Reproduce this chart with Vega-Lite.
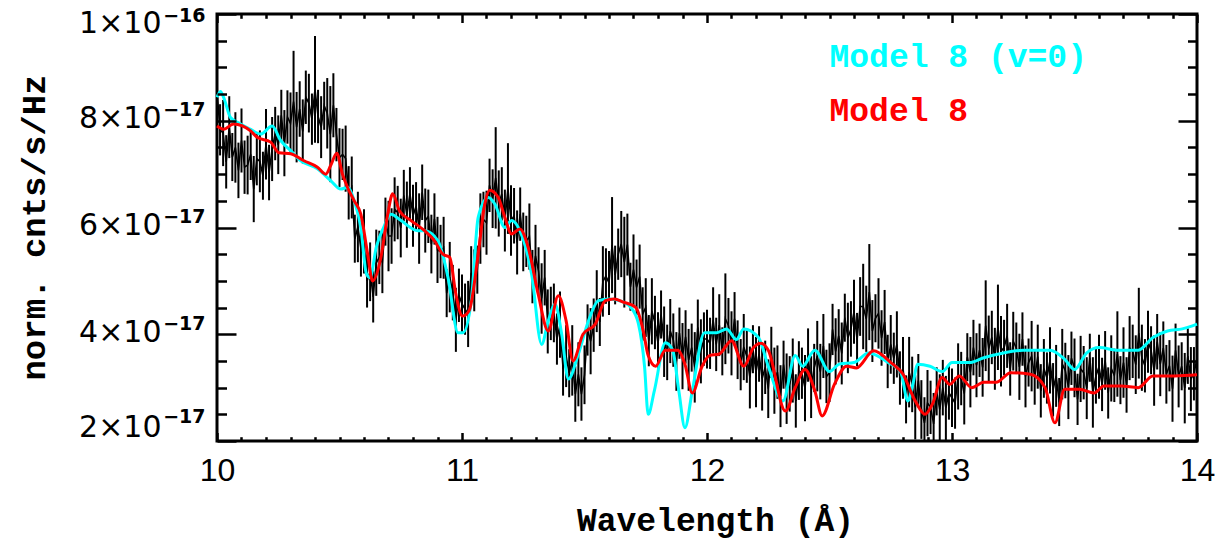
{
"$schema": "https://vega.github.io/schema/vega-lite/v6.json",
"width": 980, "height": 427,
"autosize": {"type": "none"},
"padding": {"left": 217, "top": 14, "right": 26, "bottom": 105},
"background": "white",
"config": {"view": {"stroke": "black", "strokeWidth": 3}, "axis": {"grid": false, "domain": false, "tickColor": "black", "labelColor": "black", "titleColor": "black", "tickCap": "butt"}},
"resolve": {"axis": {"x": "independent", "y": "independent"}},
"datasets": {
"spectrum": [
{"x":10,"f":8.55,"e":0.55},{"x":10.0125,"f":7.83,"e":0.48},{"x":10.025,"f":7.77,"e":0.62},{"x":10.0375,"f":7.23,"e":0.5},{"x":10.05,"f":7.88,"e":0.58},{"x":10.0625,"f":7.32,"e":0.45},{"x":10.075,"f":7.5,"e":0.66},{"x":10.0875,"f":7.07,"e":0.52},
{"x":10.1,"f":7.63,"e":0.6},{"x":10.1125,"f":7.13,"e":0.5},{"x":10.125,"f":7.17,"e":0.55},{"x":10.1375,"f":7.37,"e":0.48},{"x":10.15,"f":6.72,"e":0.62},{"x":10.1625,"f":7.29,"e":0.5},{"x":10.175,"f":7.24,"e":0.58},{"x":10.1875,"f":6.97,"e":0.45},
{"x":10.2,"f":7.56,"e":0.66},{"x":10.2125,"f":7.03,"e":0.52},{"x":10.225,"f":7.47,"e":0.6},{"x":10.2375,"f":7.76,"e":0.5},{"x":10.25,"f":7.55,"e":0.55},{"x":10.2625,"f":8.1,"e":0.48},{"x":10.275,"f":7.58,"e":0.62},{"x":10.2875,"f":8.07,"e":0.5},
{"x":10.3,"f":7.95,"e":0.58},{"x":10.3125,"f":8.36,"e":0.95},{"x":10.325,"f":7.88,"e":0.66},{"x":10.3375,"f":8.22,"e":0.52},{"x":10.35,"f":7.8,"e":0.6},{"x":10.3625,"f":8.44,"e":0.5},{"x":10.375,"f":8.33,"e":0.55},{"x":10.3875,"f":8.03,"e":0.48},
{"x":10.4,"f":8.59,"e":1.0},{"x":10.4125,"f":8.08,"e":0.5},{"x":10.425,"f":7.88,"e":0.58},{"x":10.4375,"f":8.28,"e":0.45},{"x":10.45,"f":8.14,"e":0.66},{"x":10.4625,"f":7.75,"e":0.9},{"x":10.475,"f":8.29,"e":0.6},{"x":10.4875,"f":7.74,"e":0.5},
{"x":10.5,"f":7.31,"e":0.55},{"x":10.5125,"f":7.37,"e":0.48},{"x":10.525,"f":7.29,"e":0.62},{"x":10.5375,"f":6.65,"e":0.5},{"x":10.55,"f":6.75,"e":0.58},{"x":10.5625,"f":5.79,"e":0.45},{"x":10.575,"f":6.01,"e":0.66},{"x":10.5875,"f":5.6,"e":0.52},
{"x":10.6,"f":5.74,"e":0.6},{"x":10.6125,"f":5.0,"e":0.5},{"x":10.625,"f":5.17,"e":0.55},{"x":10.6375,"f":4.7,"e":0.48},{"x":10.65,"f":5.34,"e":0.62},{"x":10.6625,"f":5.44,"e":0.5},{"x":10.675,"f":5.35,"e":0.58},{"x":10.6875,"f":6.11,"e":0.45},
{"x":10.7,"f":5.84,"e":0.66},{"x":10.7125,"f":5.84,"e":0.52},{"x":10.725,"f":6.34,"e":0.6},{"x":10.7375,"f":6.28,"e":0.5},{"x":10.75,"f":5.99,"e":0.55},{"x":10.7625,"f":6.6,"e":0.48},{"x":10.775,"f":6.24,"e":0.62},{"x":10.7875,"f":6.63,"e":0.5},
{"x":10.8,"f":6.22,"e":0.58},{"x":10.8125,"f":6.4,"e":0.45},{"x":10.825,"f":5.98,"e":0.66},{"x":10.8375,"f":6.66,"e":0.52},{"x":10.85,"f":6.13,"e":0.6},{"x":10.8625,"f":6.21,"e":0.5},{"x":10.875,"f":5.69,"e":0.55},{"x":10.8875,"f":6.16,"e":0.48},
{"x":10.9,"f":5.58,"e":0.62},{"x":10.9125,"f":5.55,"e":0.5},{"x":10.925,"f":5.62,"e":0.58},{"x":10.9375,"f":4.77,"e":0.45},{"x":10.95,"f":5.07,"e":0.66},{"x":10.9625,"f":4.78,"e":0.52},{"x":10.975,"f":4.27,"e":0.6},{"x":10.9875,"f":4.73,"e":0.5},
{"x":11,"f":4.57,"e":0.55},{"x":11.0125,"f":4.47,"e":0.48},{"x":11.025,"f":4.38,"e":0.62},{"x":11.0375,"f":5.15,"e":0.5},{"x":11.05,"f":5.01,"e":0.58},{"x":11.0625,"f":5.21,"e":0.45},{"x":11.075,"f":5.98,"e":0.66},{"x":11.0875,"f":6.15,"e":0.52},
{"x":11.1,"f":6.09,"e":0.6},{"x":11.1125,"f":6.79,"e":0.5},{"x":11.125,"f":6.54,"e":0.55},{"x":11.1375,"f":6.93,"e":0.95},{"x":11.15,"f":6.45,"e":0.62},{"x":11.1625,"f":6.63,"e":0.5},{"x":11.175,"f":6.13,"e":0.58},{"x":11.1875,"f":6.73,"e":0.85},
{"x":11.2,"f":6.13,"e":0.66},{"x":11.2125,"f":6.22,"e":0.52},{"x":11.225,"f":5.72,"e":0.6},{"x":11.2375,"f":6.25,"e":0.5},{"x":11.25,"f":5.73,"e":0.55},{"x":11.2625,"f":5.74,"e":0.48},{"x":11.275,"f":5.83,"e":0.62},{"x":11.2875,"f":5.08,"e":0.5},
{"x":11.3,"f":5.47,"e":0.58},{"x":11.3125,"f":5.18,"e":0.45},{"x":11.325,"f":4.67,"e":0.66},{"x":11.3375,"f":5.06,"e":0.52},{"x":11.35,"f":4.24,"e":0.6},{"x":11.3625,"f":4.39,"e":0.5},{"x":11.375,"f":4.4,"e":0.55},{"x":11.3875,"f":3.91,"e":0.48},
{"x":11.4,"f":4.18,"e":0.62},{"x":11.4125,"f":3.35,"e":0.5},{"x":11.425,"f":3.59,"e":0.58},{"x":11.4375,"f":3.27,"e":0.45},{"x":11.45,"f":3.51,"e":0.66},{"x":11.4625,"f":2.88,"e":0.52},{"x":11.475,"f":3.25,"e":0.6},{"x":11.4875,"f":2.88,"e":0.5},
{"x":11.5,"f":3.24,"e":0.55},{"x":11.5125,"f":4.08,"e":0.48},{"x":11.525,"f":3.87,"e":0.62},{"x":11.5375,"f":4.17,"e":0.5},{"x":11.55,"f":4.62,"e":0.58},{"x":11.5625,"f":4.23,"e":0.45},{"x":11.575,"f":4.99,"e":0.66},{"x":11.5875,"f":5.09,"e":0.52},
{"x":11.6,"f":4.96,"e":0.6},{"x":11.6125,"f":5.67,"e":0.9},{"x":11.625,"f":5.11,"e":0.55},{"x":11.6375,"f":5.5,"e":0.48},{"x":11.65,"f":5.69,"e":0.62},{"x":11.6625,"f":5.35,"e":0.85},{"x":11.675,"f":5.68,"e":0.58},{"x":11.6875,"f":4.89,"e":0.45},
{"x":11.7,"f":5.21,"e":0.66},{"x":11.7125,"f":4.88,"e":0.52},{"x":11.725,"f":5.08,"e":0.6},{"x":11.7375,"f":4.38,"e":0.5},{"x":11.75,"f":4.5,"e":0.55},{"x":11.7625,"f":3.88,"e":0.48},{"x":11.775,"f":4.43,"e":0.62},{"x":11.7875,"f":4.22,"e":0.5},
{"x":11.8,"f":3.83,"e":0.58},{"x":11.8125,"f":4.37,"e":0.45},{"x":11.825,"f":3.86,"e":0.66},{"x":11.8375,"f":3.66,"e":0.52},{"x":11.85,"f":4.06,"e":0.6},{"x":11.8625,"f":3.89,"e":0.5},{"x":11.875,"f":3.49,"e":0.55},{"x":11.8875,"f":4.02,"e":0.48},
{"x":11.9,"f":3.59,"e":0.62},{"x":11.9125,"f":3.95,"e":0.5},{"x":11.925,"f":3.52,"e":0.58},{"x":11.9375,"f":3.75,"e":0.45},{"x":11.95,"f":3.38,"e":0.66},{"x":11.9625,"f":4.13,"e":0.52},{"x":11.975,"f":3.68,"e":0.6},{"x":11.9875,"f":3.91,"e":0.5},
{"x":12,"f":3.91,"e":0.55},{"x":12.0125,"f":3.83,"e":0.48},{"x":12.025,"f":4.26,"e":0.62},{"x":12.0375,"f":3.81,"e":0.5},{"x":12.05,"f":4.17,"e":0.58},{"x":12.0625,"f":3.68,"e":0.45},{"x":12.075,"f":4.29,"e":0.85},{"x":12.0875,"f":4.16,"e":0.52},
{"x":12.1,"f":3.83,"e":0.6},{"x":12.1125,"f":4.29,"e":0.5},{"x":12.125,"f":3.71,"e":0.55},{"x":12.1375,"f":3.43,"e":0.48},{"x":12.15,"f":3.76,"e":0.62},{"x":12.1625,"f":3.59,"e":0.5},{"x":12.175,"f":3.19,"e":0.58},{"x":12.1875,"f":3.72,"e":0.45},
{"x":12.2,"f":3.29,"e":0.66},{"x":12.2125,"f":3.63,"e":0.52},{"x":12.225,"f":3.17,"e":0.6},{"x":12.2375,"f":3.38,"e":0.5},{"x":12.25,"f":2.98,"e":0.55},{"x":12.2625,"f":3.66,"e":0.48},{"x":12.275,"f":3.13,"e":0.62},{"x":12.2875,"f":3.29,"e":0.5},
{"x":12.3,"f":2.84,"e":0.58},{"x":12.3125,"f":3.43,"e":0.45},{"x":12.325,"f":2.98,"e":0.66},{"x":12.3375,"f":3.07,"e":0.52},{"x":12.35,"f":3.32,"e":0.6},{"x":12.3625,"f":2.75,"e":0.5},{"x":12.375,"f":3.32,"e":0.55},{"x":12.3875,"f":3.27,"e":0.48},
{"x":12.4,"f":2.99,"e":0.62},{"x":12.4125,"f":3.61,"e":0.5},{"x":12.425,"f":3.01,"e":0.58},{"x":12.4375,"f":3.37,"e":0.45},{"x":12.45,"f":3.59,"e":0.66},{"x":12.4625,"f":3.3,"e":0.52},{"x":12.475,"f":3.78,"e":0.6},{"x":12.4875,"f":3.21,"e":0.5},
{"x":12.5,"f":3.28,"e":0.55},{"x":12.5125,"f":4.09,"e":0.48},{"x":12.525,"f":3.68,"e":0.62},{"x":12.5375,"f":3.97,"e":0.5},{"x":12.55,"f":3.64,"e":0.58},{"x":12.5625,"f":4.31,"e":0.45},{"x":12.575,"f":3.93,"e":0.66},{"x":12.5875,"f":4.1,"e":0.52},
{"x":12.6,"f":4.42,"e":0.6},{"x":12.6125,"f":3.9,"e":0.5},{"x":12.625,"f":4.52,"e":0.55},{"x":12.6375,"f":4.52,"e":0.8},{"x":12.65,"f":4.29,"e":0.62},{"x":12.6625,"f":4.79,"e":0.9},{"x":12.675,"f":4.06,"e":0.58},{"x":12.6875,"f":4.3,"e":0.45},
{"x":12.7,"f":4.39,"e":0.66},{"x":12.7125,"f":3.93,"e":0.52},{"x":12.725,"f":4.23,"e":0.6},{"x":12.7375,"f":3.49,"e":0.5},{"x":12.75,"f":3.81,"e":0.55},{"x":12.7625,"f":3.55,"e":0.48},{"x":12.775,"f":3.81,"e":0.62},{"x":12.7875,"f":3.18,"e":0.5},
{"x":12.8,"f":3.37,"e":0.58},{"x":12.8125,"f":2.78,"e":0.45},{"x":12.825,"f":3.29,"e":0.66},{"x":12.8375,"f":3.06,"e":0.52},{"x":12.85,"f":2.63,"e":0.6},{"x":12.8625,"f":3.13,"e":0.5},{"x":12.875,"f":2.59,"e":0.55},{"x":12.8875,"f":2.34,"e":0.48},
{"x":12.9,"f":2.71,"e":0.62},{"x":12.9125,"f":2.63,"e":0.5},{"x":12.925,"f":2.32,"e":0.58},{"x":12.9375,"f":2.93,"e":0.45},{"x":12.95,"f":2.59,"e":0.66},{"x":12.9625,"f":3.0,"e":0.52},{"x":12.975,"f":2.62,"e":0.6},{"x":12.9875,"f":2.9,"e":0.5},
{"x":13,"f":2.81,"e":0.55},{"x":13.0125,"f":2.71,"e":0.48},{"x":13.025,"f":3.21,"e":0.62},{"x":13.0375,"f":3.17,"e":0.5},{"x":13.05,"f":2.89,"e":0.58},{"x":13.0625,"f":3.57,"e":0.45},{"x":13.075,"f":3.29,"e":0.66},{"x":13.0875,"f":3.75,"e":0.52},
{"x":13.1,"f":3.42,"e":0.6},{"x":13.1125,"f":3.7,"e":0.5},{"x":13.125,"f":3.38,"e":0.55},{"x":13.1375,"f":4.16,"e":0.85},{"x":13.15,"f":3.73,"e":0.62},{"x":13.1625,"f":3.94,"e":0.5},{"x":13.175,"f":3.54,"e":0.58},{"x":13.1875,"f":4.13,"e":0.8},
{"x":13.2,"f":3.68,"e":0.66},{"x":13.2125,"f":3.75,"e":0.52},{"x":13.225,"f":3.97,"e":0.6},{"x":13.2375,"f":3.35,"e":0.5},{"x":13.25,"f":3.87,"e":0.55},{"x":13.2625,"f":3.74,"e":0.48},{"x":13.275,"f":3.39,"e":0.62},{"x":13.2875,"f":3.91,"e":0.5},
{"x":13.3,"f":3.21,"e":0.58},{"x":13.3125,"f":3.47,"e":0.45},{"x":13.325,"f":3.59,"e":0.66},{"x":13.3375,"f":3.2,"e":0.52},{"x":13.35,"f":3.58,"e":0.6},{"x":13.3625,"f":2.94,"e":0.5},{"x":13.375,"f":3.36,"e":0.55},{"x":13.3875,"f":3.18,"e":0.48},
{"x":13.4,"f":3.51,"e":0.62},{"x":13.4125,"f":2.96,"e":0.5},{"x":13.425,"f":3.22,"e":0.58},{"x":13.4375,"f":2.73,"e":0.45},{"x":13.45,"f":3.44,"e":0.66},{"x":13.4625,"f":3.32,"e":0.52},{"x":13.475,"f":3.01,"e":0.6},{"x":13.4875,"f":3.55,"e":0.5},
{"x":13.5,"f":3.37,"e":0.55},{"x":13.5125,"f":2.78,"e":0.48},{"x":13.525,"f":3.35,"e":0.62},{"x":13.5375,"f":3.28,"e":0.5},{"x":13.55,"f":2.99,"e":0.58},{"x":13.5625,"f":3.56,"e":0.45},{"x":13.575,"f":2.91,"e":0.66},{"x":13.5875,"f":3.22,"e":0.52},
{"x":13.6,"f":3.39,"e":0.6},{"x":13.6125,"f":3.06,"e":0.5},{"x":13.625,"f":3.51,"e":0.55},{"x":13.6375,"f":2.9,"e":0.48},{"x":13.65,"f":3.36,"e":0.62},{"x":13.6625,"f":3.23,"e":0.5},{"x":13.675,"f":3.63,"e":0.8},{"x":13.6875,"f":3.14,"e":0.45},
{"x":13.7,"f":3.47,"e":0.66},{"x":13.7125,"f":3.05,"e":0.52},{"x":13.725,"f":3.74,"e":0.6},{"x":13.7375,"f":3.68,"e":0.5},{"x":13.75,"f":3.43,"e":0.55},{"x":13.7625,"f":4.02,"e":0.85},{"x":13.775,"f":3.56,"e":0.62},{"x":13.7875,"f":3.41,"e":0.5},
{"x":13.8,"f":3.86,"e":0.58},{"x":13.8125,"f":3.7,"e":0.45},{"x":13.825,"f":3.32,"e":0.66},{"x":13.8375,"f":3.86,"e":0.52},{"x":13.85,"f":3.44,"e":0.6},{"x":13.8625,"f":3.74,"e":0.5},{"x":13.875,"f":3.25,"e":0.55},{"x":13.8875,"f":3.41,"e":0.48},
{"x":13.9,"f":2.98,"e":0.62},{"x":13.9125,"f":3.7,"e":0.5},{"x":13.925,"f":3.21,"e":0.58},{"x":13.9375,"f":3.4,"e":0.45},{"x":13.95,"f":2.99,"e":0.66},{"x":13.9625,"f":3.59,"e":0.52},{"x":13.975,"f":3.16,"e":0.6},{"x":13.9875,"f":3.26,"e":0.5},
{"x":14,"f":3.55,"e":0.55}
],
"model_v0": [
{"x":10.0,"m":8.44},{"x":10.014,"m":8.55},{"x":10.027,"m":8.44},{"x":10.055,"m":8.06},{"x":10.096,"m":7.94},{"x":10.137,"m":7.84},{"x":10.178,"m":7.75},{"x":10.225,"m":7.9},{"x":10.26,"m":7.63},{"x":10.301,"m":7.44},{"x":10.342,"m":7.25},{"x":10.41,"m":7.1},{"x":10.464,"m":6.88},{"x":10.505,"m":6.72},{"x":10.533,"m":6.75},{"x":10.56,"m":6.5},{"x":10.587,"m":6.0},{"x":10.61,"m":5.13},{"x":10.625,"m":5.06},{"x":10.65,"m":5.63},{"x":10.68,"m":6.0},{"x":10.71,"m":6.25},{"x":10.751,"m":6.13},{"x":10.82,"m":5.94},{"x":10.847,"m":5.94},{"x":10.902,"m":5.75},{"x":10.943,"m":5.06},{"x":10.984,"m":4.03},{"x":11.004,"m":4.03},{"x":11.038,"m":4.63},{"x":11.066,"m":6.19},{"x":11.107,"m":6.56},{"x":11.134,"m":6.44},{"x":11.175,"m":6.0},{"x":11.202,"m":6.13},{"x":11.236,"m":5.94},{"x":11.284,"m":5.13},{"x":11.325,"m":3.81},{"x":11.352,"m":4.25},{"x":11.38,"m":4.56},{"x":11.407,"m":4.0},{"x":11.434,"m":3.16},{"x":11.475,"m":3.63},{"x":11.516,"m":4.25},{"x":11.557,"m":4.63},{"x":11.6,"m":4.66},{"x":11.66,"m":4.6},{"x":11.69,"m":4.5},{"x":11.72,"m":4.2},{"x":11.745,"m":3.4},{"x":11.76,"m":2.5},{"x":11.785,"m":2.94},{"x":11.83,"m":3.84},{"x":11.86,"m":3.7},{"x":11.885,"m":2.94},{"x":11.91,"m":2.25},{"x":11.94,"m":2.94},{"x":11.99,"m":4.03},{"x":12.04,"m":4.03},{"x":12.08,"m":4.1},{"x":12.12,"m":3.9},{"x":12.15,"m":4.1},{"x":12.21,"m":3.94},{"x":12.25,"m":3.4},{"x":12.31,"m":2.75},{"x":12.36,"m":3.6},{"x":12.39,"m":3.4},{"x":12.44,"m":3.7},{"x":12.5,"m":3.3},{"x":12.54,"m":3.44},{"x":12.6,"m":3.47},{"x":12.66,"m":3.65},{"x":12.74,"m":3.47},{"x":12.79,"m":3.3},{"x":12.82,"m":2.75},{"x":12.84,"m":3.06},{"x":12.86,"m":3.44},{"x":12.91,"m":3.4},{"x":12.96,"m":3.3},{"x":13.0,"m":3.47},{"x":13.07,"m":3.47},{"x":13.13,"m":3.56},{"x":13.21,"m":3.65},{"x":13.29,"m":3.7},{"x":13.4,"m":3.7},{"x":13.46,"m":3.53},{"x":13.5,"m":3.34},{"x":13.55,"m":3.65},{"x":13.6,"m":3.75},{"x":13.68,"m":3.7},{"x":13.76,"m":3.7},{"x":13.82,"m":3.94},{"x":13.88,"m":4.06},{"x":13.94,"m":4.1},{"x":14.0,"m":4.19}
],
"model_8": [
{"x":10.0,"m":7.9},{"x":10.027,"m":7.84},{"x":10.068,"m":7.94},{"x":10.137,"m":7.81},{"x":10.164,"m":7.69},{"x":10.219,"m":7.6},{"x":10.253,"m":7.4},{"x":10.301,"m":7.38},{"x":10.355,"m":7.25},{"x":10.41,"m":7.13},{"x":10.444,"m":7.0},{"x":10.464,"m":7.16},{"x":10.489,"m":7.39},{"x":10.512,"m":7.0},{"x":10.533,"m":6.75},{"x":10.56,"m":6.5},{"x":10.587,"m":6.25},{"x":10.615,"m":5.5},{"x":10.635,"m":5.0},{"x":10.669,"m":5.44},{"x":10.697,"m":6.25},{"x":10.717,"m":6.63},{"x":10.745,"m":6.31},{"x":10.792,"m":6.13},{"x":10.847,"m":5.94},{"x":10.888,"m":5.75},{"x":10.922,"m":5.5},{"x":10.95,"m":5.44},{"x":10.975,"m":4.75},{"x":11.002,"m":4.34},{"x":11.029,"m":4.44},{"x":11.066,"m":5.5},{"x":11.093,"m":6.44},{"x":11.113,"m":6.7},{"x":11.148,"m":6.56},{"x":11.175,"m":6.19},{"x":11.202,"m":5.88},{"x":11.236,"m":5.97},{"x":11.27,"m":5.63},{"x":11.311,"m":4.75},{"x":11.352,"m":4.06},{"x":11.393,"m":4.72},{"x":11.425,"m":4.25},{"x":11.453,"m":3.5},{"x":11.494,"m":4.0},{"x":11.544,"m":4.19},{"x":11.585,"m":4.63},{"x":11.62,"m":4.66},{"x":11.66,"m":4.6},{"x":11.71,"m":4.5},{"x":11.74,"m":4.06},{"x":11.76,"m":3.6},{"x":11.79,"m":3.4},{"x":11.83,"m":3.7},{"x":11.88,"m":3.7},{"x":11.91,"m":3.44},{"x":11.94,"m":2.9},{"x":11.98,"m":3.4},{"x":12.01,"m":3.6},{"x":12.05,"m":3.63},{"x":12.1,"m":3.88},{"x":12.15,"m":3.4},{"x":12.19,"m":3.75},{"x":12.22,"m":3.83},{"x":12.25,"m":3.7},{"x":12.32,"m":2.56},{"x":12.36,"m":3.0},{"x":12.4,"m":3.34},{"x":12.44,"m":2.94},{"x":12.47,"m":2.47},{"x":12.52,"m":3.06},{"x":12.57,"m":3.4},{"x":12.61,"m":3.37},{"x":12.68,"m":3.69},{"x":12.75,"m":3.47},{"x":12.8,"m":3.25},{"x":12.85,"m":2.75},{"x":12.89,"m":2.5},{"x":12.92,"m":2.69},{"x":12.96,"m":3.19},{"x":12.99,"m":3.06},{"x":13.03,"m":3.22},{"x":13.08,"m":3.0},{"x":13.13,"m":3.1},{"x":13.18,"m":3.1},{"x":13.24,"m":3.28},{"x":13.32,"m":3.25},{"x":13.38,"m":3.0},{"x":13.42,"m":2.34},{"x":13.46,"m":2.97},{"x":13.52,"m":2.97},{"x":13.58,"m":2.9},{"x":13.62,"m":3.03},{"x":13.69,"m":3.03},{"x":13.76,"m":3.0},{"x":13.82,"m":3.22},{"x":13.91,"m":3.22},{"x":14.0,"m":3.24}
]
},
"layer": [
{"data": {"name": "spectrum"},
 "mark": {"type": "errorbar", "color": "black", "thickness": 2},
 "encoding": {
  "x": {"field": "x", "type": "quantitative", "scale": {"domain": [10, 14], "nice": false, "zero": false}, "axis": null},
  "y": {"field": "f", "type": "quantitative", "scale": {"domain": [2, 10], "nice": false, "zero": false, "clamp": true},
        "axis": {"orient": "right", "values": [2.5,3,3.5,4.5,5,5.5,6.5,7,7.5,8.5,9,9.5], "ticks": true, "tickSize": -9.5, "tickWidth": 2.5, "labels": false, "title": null, "zindex": 1}},
  "yError": {"field": "e"}}},
{"data": {"name": "spectrum"},
 "mark": {"type": "line", "color": "black", "strokeWidth": 1.6},
 "encoding": {
  "x": {"field": "x", "type": "quantitative", "scale": {"domain": [10, 14], "nice": false, "zero": false},
        "axis": {"orient": "bottom", "values": [10,11,12,13,14], "ticks": false, "tickSize": 0, "labelPadding": 14, "labelFont": "Liberation Sans", "labelFontSize": 32, "labelFlush": false, "labelOverlap": false, "labelBound": false,
                 "title": "Wavelength (Å)", "titleFont": "Liberation Mono", "titleFontSize": 33, "titleFontWeight": "bold", "titleX": 498, "titleY": 89, "titleAlign": "center", "titleBaseline": "alphabetic"}},
  "y": {"field": "f", "type": "quantitative", "scale": {"domain": [2, 10], "nice": false, "zero": false, "clamp": true},
        "axis": {"orient": "left", "values": [2,4,6,8,10], "ticks": false, "tickSize": 0, "labelPadding": 56, "labelOffset": -2, "labelFont": "DejaVu Sans", "labelFontSize": 30, "labelFlush": true, "labelFlushOffset": 3.5, "labelOverlap": false,
                 "labelExpr": "(datum.value == 10 ? '1' : format(datum.value, 'd')) + '×10'",
                 "title": "norm. cnts/s/Hz", "titleFont": "Liberation Mono", "titleFontSize": 34, "titleFontWeight": "bold", "titleX": -173, "titleY": 213, "titleAngle": 270, "titleAlign": "center", "titleBaseline": "alphabetic"}}}},
{"data": {"name": "model_v0"},
 "mark": {"type": "line", "color": "#00FFFF", "strokeWidth": 3, "interpolate": "monotone"},
 "encoding": {
  "x": {"field": "x", "type": "quantitative", "scale": {"domain": [10, 14], "nice": false, "zero": false},
        "axis": {"orient": "bottom", "values": [10,11,12,13,14], "ticks": true, "tickSize": -8.5, "tickWidth": 2.5, "labels": false, "title": null, "zindex": 1}},
  "y": {"field": "m", "type": "quantitative", "scale": {"domain": [2, 10], "nice": false, "zero": false, "clamp": true},
        "axis": {"orient": "left", "values": [2,4,6,8,10], "ticks": false, "tickSize": 0, "labelPadding": 12, "labelOffset": -11, "labelFont": "DejaVu Sans", "labelFontWeight": "bold", "labelFontSize": 19, "labelFlush": true, "labelFlushOffset": -3.5, "labelOverlap": false,
                 "labelExpr": "datum.value == 10 ? '−16' : '−17'", "title": null}}}},
{"data": {"name": "model_8"},
 "mark": {"type": "line", "color": "#FF0000", "strokeWidth": 3, "interpolate": "monotone"},
 "encoding": {
  "x": {"field": "x", "type": "quantitative", "scale": {"domain": [10, 14], "nice": false, "zero": false},
        "axis": {"orient": "bottom", "values": [10.1,10.2,10.3,10.4,10.5,10.6,10.7,10.8,10.9,11.1,11.2,11.3,11.4,11.5,11.6,11.7,11.8,11.9,12.1,12.2,12.3,12.4,12.5,12.6,12.7,12.8,12.9,13.1,13.2,13.3,13.4,13.5,13.6,13.7,13.8,13.9], "ticks": true, "tickSize": -4.3, "tickWidth": 2.5, "labels": false, "title": null, "zindex": 1}},
  "y": {"field": "m", "type": "quantitative", "scale": {"domain": [2, 10], "nice": false, "zero": false, "clamp": true},
        "axis": {"orient": "left", "values": [2,4,6,8,10], "ticks": true, "tickSize": -19, "tickWidth": 2.5, "labels": false, "title": null, "zindex": 1}}}},
{"data": {"values": [{"x": 12.5, "y": 9.0, "label": "Model 8 (v=0)"}]},
 "mark": {"type": "text", "align": "left", "baseline": "alphabetic", "font": "Liberation Mono", "fontSize": 33, "fontWeight": "bold", "color": "#00FFFF"},
 "encoding": {
  "x": {"field": "x", "type": "quantitative", "scale": {"domain": [10, 14], "nice": false, "zero": false},
        "axis": {"orient": "top", "values": [10,11,12,13,14], "ticks": true, "tickSize": -8.5, "tickWidth": 2.5, "labels": false, "title": null, "zindex": 1}},
  "y": {"field": "y", "type": "quantitative", "scale": {"domain": [2, 10], "nice": false, "zero": false, "clamp": true},
        "axis": {"orient": "left", "values": [2.5,3,3.5,4.5,5,5.5,6.5,7,7.5,8.5,9,9.5], "ticks": true, "tickSize": -9.5, "tickWidth": 2.5, "labels": false, "title": null, "zindex": 1}},
  "text": {"field": "label"}}},
{"data": {"values": [{"x": 12.5, "y": 8.0, "label": "Model 8"}]},
 "mark": {"type": "text", "align": "left", "baseline": "alphabetic", "font": "Liberation Mono", "fontSize": 33, "fontWeight": "bold", "color": "#FF0000"},
 "encoding": {
  "x": {"field": "x", "type": "quantitative", "scale": {"domain": [10, 14], "nice": false, "zero": false},
        "axis": {"orient": "top", "values": [10.1,10.2,10.3,10.4,10.5,10.6,10.7,10.8,10.9,11.1,11.2,11.3,11.4,11.5,11.6,11.7,11.8,11.9,12.1,12.2,12.3,12.4,12.5,12.6,12.7,12.8,12.9,13.1,13.2,13.3,13.4,13.5,13.6,13.7,13.8,13.9], "ticks": true, "tickSize": -4.3, "tickWidth": 2.5, "labels": false, "title": null, "zindex": 1}},
  "y": {"field": "y", "type": "quantitative", "scale": {"domain": [2, 10], "nice": false, "zero": false, "clamp": true},
        "axis": {"orient": "right", "values": [2,4,6,8,10], "ticks": true, "tickSize": -19, "tickWidth": 2.5, "labels": false, "title": null, "zindex": 1}},
  "text": {"field": "label"}}}
]
}
